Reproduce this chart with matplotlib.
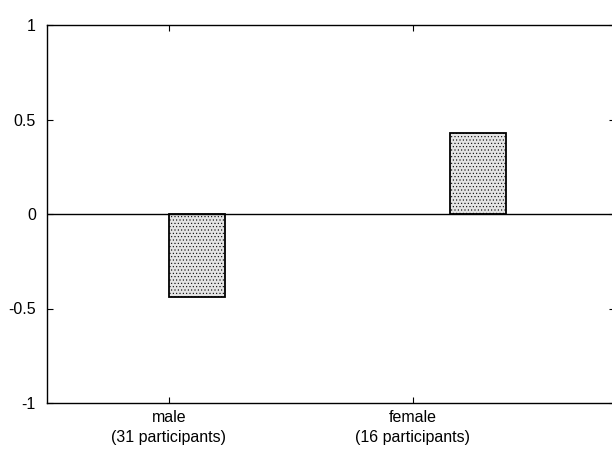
import matplotlib
matplotlib.use('Agg')
import matplotlib.pyplot as plt

# data
groups = ['male', 'female']
participants = [31, 16]
values = [-0.44, 0.43]
tick_pos = [1, 2]
bar_pos = [1.115, 2.268]

plt.rcParams['font.family'] = ['Liberation Sans', 'DejaVu Sans']
plt.rcParams['hatch.color'] = '#bdbdbd'
plt.rcParams['hatch.linewidth'] = 0.4

fig = plt.figure(figsize=(6.12, 4.54), dpi=100)
ax = fig.add_axes([47 / 612, 1 - 403 / 454, 568 / 612, 378 / 454])

ax.bar(bar_pos, values, width=0.23, color='#e4e4e4', edgecolor='black',
       linewidth=1.3, hatch='.....', zorder=2)
ax.axhline(0, color='black', linewidth=1.0, zorder=3)

ax.set_xlim(0.5, 2.83)
ax.set_ylim(-1, 1)
ax.set_yticks([-1, -0.5, 0, 0.5, 1])
ax.set_yticklabels(['-1', '-0.5', '0', '0.5', '1'])
ax.set_xticks(tick_pos)
ax.set_xticklabels([f'{g}\n({n} participants)' for g, n in zip(groups, participants)],
                   linespacing=1.45)

ax.tick_params(direction='in', length=4, top=True, right=True, labelsize=11.5)
ax.tick_params(axis='y', pad=8)
ax.tick_params(axis='x', pad=5)
ax.spines['right'].set_visible(False)
for s in ax.spines.values():
    s.set_linewidth(1.0)

fig.savefig('out.png', dpi=100)
